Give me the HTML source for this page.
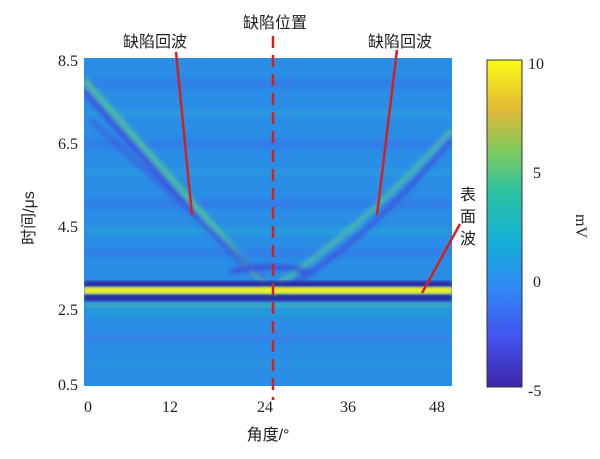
<!DOCTYPE html>
<html><head><meta charset="utf-8"><style>
body{margin:0;background:#fff;width:600px;height:459px;overflow:hidden}
svg{display:block}
text{font-family:"Liberation Serif","Noto Serif CJK SC",serif;fill:#222}
.cj{font-family:"Liberation Sans","Noto Sans CJK SC",sans-serif;font-size:16px}
</style></head><body>
<svg width="600" height="459" viewBox="0 0 600 459">
<defs>
<linearGradient id="cb" x1="0" y1="1" x2="0" y2="0">
<stop offset="0" stop-color="#3e26a8"/><stop offset="0.15" stop-color="#4352f0"/>
<stop offset="0.3" stop-color="#2f88f4"/><stop offset="0.45" stop-color="#14b1d6"/>
<stop offset="0.6" stop-color="#2dc3a0"/><stop offset="0.72" stop-color="#7fca5e"/>
<stop offset="0.85" stop-color="#e3b934"/><stop offset="1" stop-color="#f9fa14"/>
</linearGradient>
<filter id="bl"><feGaussianBlur stdDeviation="1.5"/></filter>
<filter id="bl2"><feGaussianBlur stdDeviation="2.5"/></filter>
<clipPath id="pc"><rect x="84" y="58" width="368" height="328"/></clipPath>
</defs>
<g clip-path="url(#pc)">
<rect x="84" y="58" width="368" height="328" fill="#2a8de6"/>
<g filter="url(#bl2)" opacity="0.75">
<rect x="84" y="80" width="368" height="8" fill="#3579ea"/>
<rect x="84" y="110" width="368" height="6" fill="#2aa0dc"/>
<rect x="84" y="140" width="368" height="8" fill="#3477ea"/>
<rect x="84" y="170" width="368" height="6" fill="#2a9ede"/>
<rect x="84" y="200" width="368" height="8" fill="#3576ea"/>
<rect x="84" y="228" width="368" height="6" fill="#28a4d8"/>
<rect x="84" y="250" width="368" height="6" fill="#3578ea"/>
<rect x="84" y="310" width="368" height="6" fill="#24a4d4"/>
<rect x="84" y="335" width="368" height="6" fill="#3a7bea"/>
<rect x="84" y="360" width="368" height="6" fill="#2a9ade"/>
</g>
<g fill="none" filter="url(#bl2)">
<path d="M84 90 Q180 200 270 290" stroke="#3a56e0" stroke-width="7"/>
<path d="M84 80 Q190 200 275 296" stroke="#4ec0a0" stroke-width="6"/>
<path d="M90 120 Q200 220 265 280" stroke="#3a5ae0" stroke-width="5" opacity="0.7"/>
<path d="M452 130 Q360 230 275 286" stroke="#48b8b0" stroke-width="5"/>
<path d="M452 138 Q370 240 280 292" stroke="#3a5ae0" stroke-width="5"/>
<path d="M230 272 Q270 262 310 272" stroke="#3a50d8" stroke-width="5"/>
</g>
<rect x="84" y="281" width="368" height="6" fill="#2c2ca0" filter="url(#bl)"/>
<rect x="84" y="287" width="368" height="7" fill="#f2f020" filter="url(#bl)"/>
<rect x="84" y="295" width="368" height="6" fill="#2a2a98" filter="url(#bl)"/>
<rect x="84" y="303" width="368" height="5" fill="#40c0a8" opacity="0.6" filter="url(#bl)"/>
</g>
<g font-size="16">
<text x="78" y="66" text-anchor="end">8.5</text>
<text x="78" y="149" text-anchor="end">6.5</text>
<text x="78" y="232" text-anchor="end">4.5</text>
<text x="78" y="315" text-anchor="end">2.5</text>
<text x="78" y="390" text-anchor="end">0.5</text>
<text x="88" y="412" text-anchor="middle">0</text>
<text x="170" y="412" text-anchor="middle">12</text>
<text x="265" y="412" text-anchor="middle">24</text>
<text x="348" y="412" text-anchor="middle">36</text>
<text x="437" y="412" text-anchor="middle">48</text>
<text x="528" y="69">10</text>
<text x="533" y="178">5</text>
<text x="533" y="287">0</text>
<text x="528" y="396">-5</text>
<text transform="translate(576,226) rotate(90)" text-anchor="middle">mV</text>
</g>
<rect x="487" y="60" width="35" height="327" fill="url(#cb)" stroke="#333" stroke-width="1"/>
<text class="cj" x="268" y="440" text-anchor="middle">角度/°</text>
<text class="cj" transform="translate(34,218) rotate(-90)" text-anchor="middle">时间/μs</text>
<text class="cj" x="155" y="47" text-anchor="middle">缺陷回波</text>
<text class="cj" x="275" y="28" text-anchor="middle">缺陷位置</text>
<text class="cj" x="400" y="47" text-anchor="middle">缺陷回波</text>
<text class="cj" x="468" y="200" text-anchor="middle">表</text>
<text class="cj" x="468" y="222" text-anchor="middle">面</text>
<text class="cj" x="468" y="244" text-anchor="middle">波</text>
<g stroke="#d42020" stroke-width="2.5" fill="none">
<line x1="176" y1="52" x2="192" y2="215"/>
<line x1="397" y1="50" x2="377" y2="215"/>
<line x1="460" y1="224" x2="422" y2="293"/>
<line x1="273" y1="36" x2="273" y2="400" stroke-dasharray="12,7"/>
</g>
</svg>
</body></html>
